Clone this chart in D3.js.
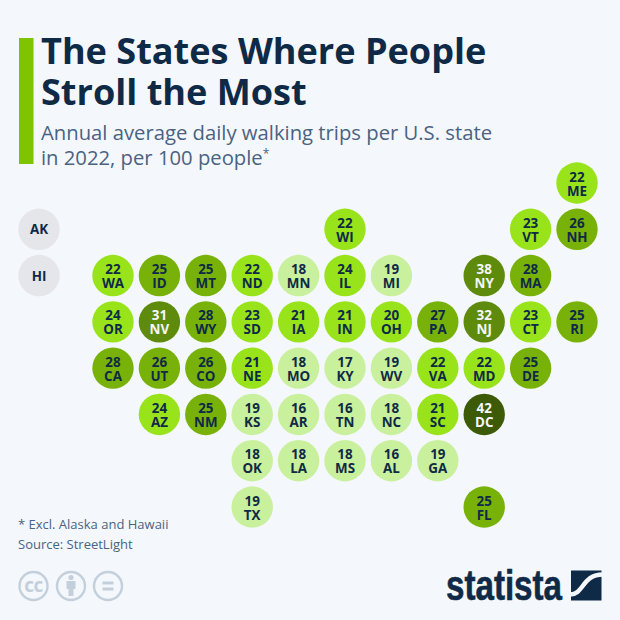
<!DOCTYPE html>
<html><head><meta charset="utf-8">
<script src="https://cdn.jsdelivr.net/npm/d3@7"></script>
<style>html,body{margin:0;padding:0;background:#f4f7fb}svg{display:block}text{font-family:"Open Sans",sans-serif}</style>
</head><body><svg id="c" width="620" height="620"></svg>
<script>
const titleLines = ["The States Where People", "Stroll the Most"];
const subtitleLines = ["Annual average daily walking trips per U.S. state", "in 2022, per 100 people"];
const notes = ["* Excl. Alaska and Hawaii", "Source: StreetLight"];
const tileRows = [
  ["","","","","","","","","","","ME"],
  ["","","","","","WI","","","","VT","NH"],
  ["WA","ID","MT","ND","MN","IL","MI","","NY","MA",""],
  ["OR","NV","WY","SD","IA","IN","OH","PA","NJ","CT","RI"],
  ["CA","UT","CO","NE","MO","KY","WV","VA","MD","DE",""],
  ["","AZ","NM","KS","AR","TN","NC","SC","DC","",""],
  ["","","","OK","LA","MS","AL","GA","","",""],
  ["","","","TX","","","","","FL","",""]
];
const stateCodes = ["ME","WI","VT","NH","WA","ID","MT","ND","MN","IL","MI","NY","MA","OR","NV","WY","SD","IA","IN","OH","PA","NJ","CT","RI","CA","UT","CO","NE","MO","KY","WV","VA","MD","DE","AZ","NM","KS","AR","TN","NC","SC","DC","OK","LA","MS","AL","GA","TX","FL"];
const stateValues = [22,22,23,26,22,25,25,22,18,24,19,38,28,24,31,28,23,21,21,20,27,32,23,25,28,26,26,21,18,17,19,22,22,25,24,25,19,16,16,18,21,42,18,18,18,16,19,19,25];
const excluded = ["AK","HI"];
const colorBreaks = [20,25,30,40];
const colorRange = ["#c9f09c","#98e31a","#78b208","#5e8b0c","#3d5a06"];

const valueByState = new Map(stateCodes.map((s,i)=>[s,stateValues[i]]));
const svg = d3.select("#c");
const navy = "#0f2a47", slate = "#4a6382", bg = "#f4f7fb";

svg.append("rect").attr("x",19).attr("y",38).attr("width",14.5).attr("height",126).attr("fill","#7fc400");
svg.append("g").selectAll("text").data(titleLines).join("text")
  .attr("x",41).attr("y",(d,i)=>64+i*40.5).attr("font-size",36.1).attr("font-weight",700).attr("fill",navy).text(d=>d);
const sub = svg.append("g").selectAll("text").data(subtitleLines).join("text")
  .attr("x",41).attr("y",(d,i)=>140+i*25).attr("font-size",20.25).attr("fill",slate).text(d=>d);
sub.filter((d,i)=>i===1).append("tspan").attr("dy",-7).attr("font-size",12).text("*");

const x = d3.scalePoint().domain(d3.range(11)).range([113,577]);
const y = d3.scalePoint().domain(d3.range(8)).range([183,507]);
const color = d3.scaleThreshold().domain(colorBreaks).range(colorRange);
const tiles = tileRows.flatMap((r,ri)=>r.map((s,ci)=>({s,ri,ci}))).filter(d=>d.s);
const g = svg.append("g").selectAll("g").data(tiles).join("g")
  .attr("transform",d=>`translate(${x(d.ci)},${y(d.ri)})`);
g.append("circle").attr("r",20.7).attr("fill",d=>color(valueByState.get(d.s)));
const labelFill = d=>valueByState.get(d.s)>=30?bg:navy;
const lab = g.append("text").attr("text-anchor","middle").attr("font-size",13.4).attr("font-weight",700).attr("fill",labelFill);
lab.append("tspan").attr("x",0).attr("y",-1.5).text(d=>valueByState.get(d.s));
lab.append("tspan").attr("x",0).attr("y",12.5).text(d=>d.s);

const ex = svg.append("g").selectAll("g").data(excluded).join("g")
  .attr("transform",(d,i)=>`translate(39,${y(1)+i*(y(2)-y(1))})`);
ex.append("circle").attr("r",20.7).attr("fill","#e4e6e9");
ex.append("text").attr("text-anchor","middle").attr("y",5).attr("font-size",13.4).attr("font-weight",700).attr("fill",navy).text(d=>d);

svg.append("g").selectAll("text").data(notes).join("text")
  .attr("x",18).attr("y",(d,i)=>529+i*20).attr("font-size",13).attr("fill",slate).text(d=>d);

const iconCol = "#c3d0dc";
const ic = svg.append("g").attr("fill","none").attr("stroke",iconCol).attr("stroke-width",2.4);
[33.5,71,108].forEach(cx=>ic.append("circle").attr("cx",cx).attr("cy",586).attr("r",14));
svg.append("text").attr("x",33.5).attr("y",592).attr("text-anchor","middle").attr("font-size",19).attr("letter-spacing",-0.5).attr("font-weight",700).attr("fill",iconCol).text("cc");
svg.append("circle").attr("cx",71).attr("cy",577.5).attr("r",2.6).attr("fill",iconCol);
svg.append("path").attr("d","M66.5 581h9v8h-2v7h-5v-7h-2z").attr("fill",iconCol);
svg.append("path").attr("d","M102.5 581.5h11v3h-11zM102.5 587.5h11v3h-11z").attr("fill",iconCol);

svg.append("text").attr("x",446).attr("y",600).style("font-family","'Liberation Sans',sans-serif").attr("font-size",42).attr("font-weight",700).attr("stroke",navy).attr("stroke-width",0.6).attr("fill",navy).attr("textLength",116).attr("lengthAdjust","spacingAndGlyphs").text("statista");
svg.append("rect").attr("x",571).attr("y",570.5).attr("width",30.5).attr("height",30).attr("fill",navy);
svg.append("path").attr("fill","none").attr("stroke",bg).attr("stroke-width",4.5).attr("d","M570 594.5C584 594.5 582 574.5 603 574.5");
</script></body></html>
